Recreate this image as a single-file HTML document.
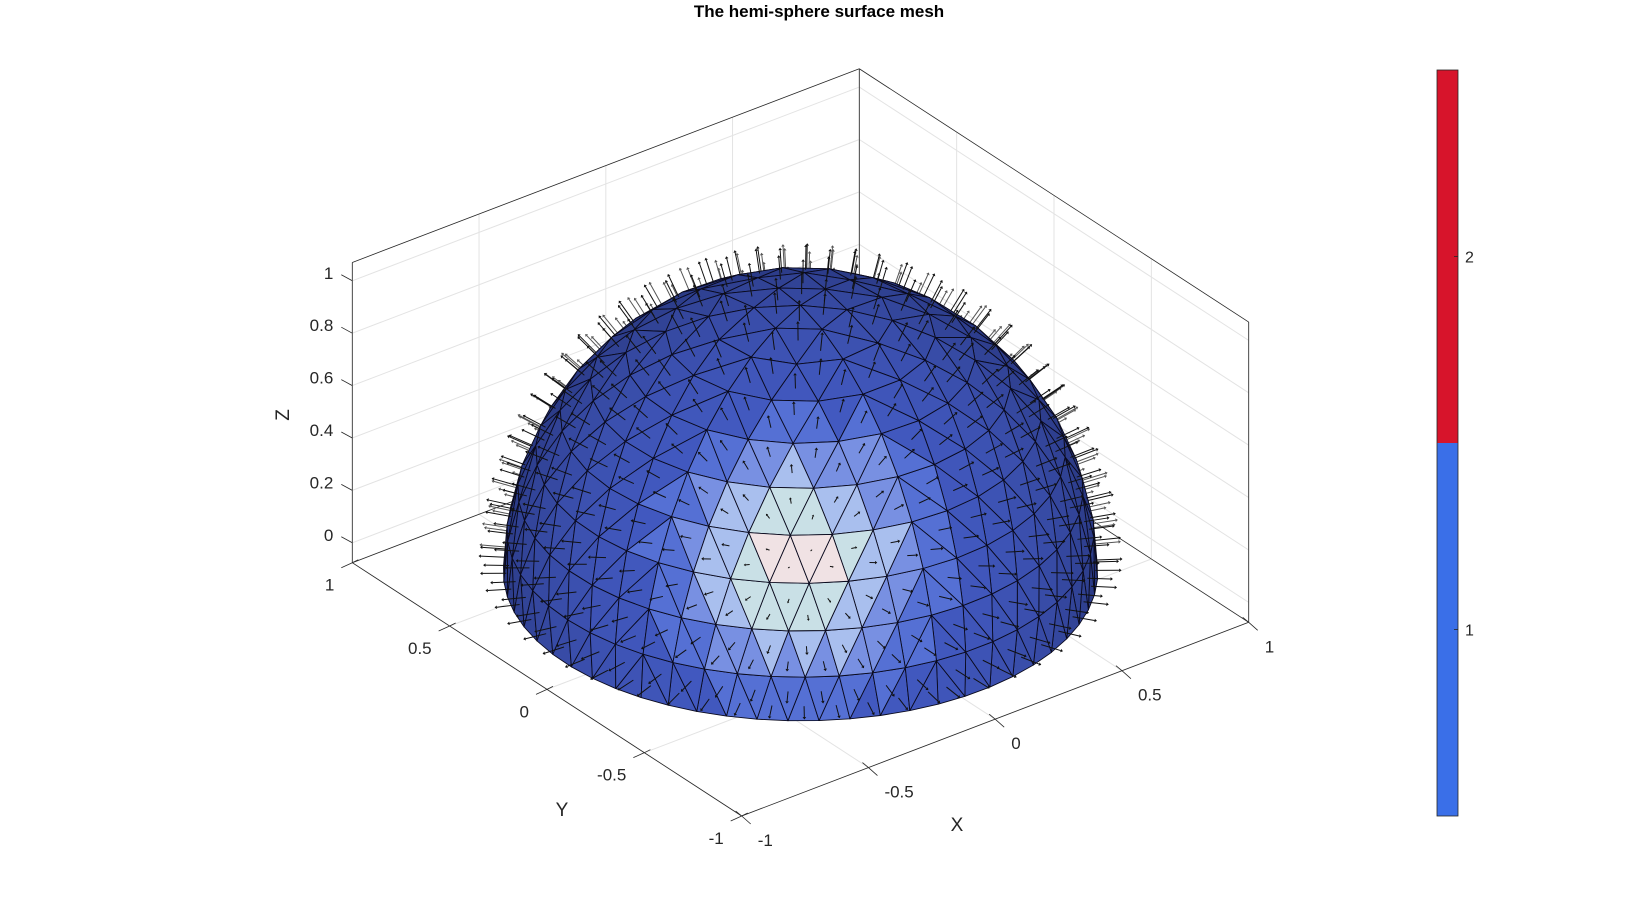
<!DOCTYPE html>
<html><head><meta charset="utf-8">
<style>
html,body{margin:0;padding:0;background:#fff;}
svg{display:block;font-family:"Liberation Sans","DejaVu Sans",sans-serif;}
</style></head>
<body>
<svg id="chart" width="1632" height="918" viewBox="0 0 1632 918">
<text x="819" y="17" text-anchor="middle" font-size="17" font-weight="bold" fill="#000">The hemi-sphere surface mesh</text>
<g id="grid"></g>
<g id="backArrows"></g>
<g id="mesh"></g>
<g id="frontArrows"></g>
<g id="axes"></g>
<g id="cbar"></g>
</svg>
<script>
const xTicks=[-1,-0.5,0,0.5,1];
const yTicks=[-1,-0.5,0,0.5,1];
const zTicks=[0,0.2,0.4,0.6,0.8,1];
const xTickLabels=["-1","-0.5","0","0.5","1"];
const yTickLabels=["-1","-0.5","0","0.5","1"];
const zTickLabels=["0","0.2","0.4","0.6","0.8","1"];
const cbarValues=[1,2];
const cbarColors=["#3a6fe8","#d7142b"];
const cbarRange=[0.5,2.5];
const zRange=[-0.076,1.07];

const NS="http://www.w3.org/2000/svg";
function mk(tag,attrs,parent){const e=document.createElementNS(NS,tag);for(const k in attrs)e.setAttribute(k,attrs[k]);parent.appendChild(e);return e;}
function P(x,y,z){return [800.5+253.5*x-194.7*y, 592.5-96.85*x-126.65*y-262*(z-zRange[0])];}

const grid=document.getElementById('grid');
const axes=document.getElementById('axes');
function line(a,b,col,w,parent,name){const l=mk('line',{x1:a[0],y1:a[1],x2:b[0],y2:b[1],stroke:col,'stroke-width':w},parent);return l;}
const z0=zRange[0],z1=zRange[1];
xTicks.forEach(v=>{ line(P(v,-1,z0),P(v,1,z0),'#e3e3e3',1,grid,'grid-line-x'); line(P(v,1,z0),P(v,1,z1),'#e3e3e3',1,grid,'grid-line-x-wall');});
yTicks.forEach(v=>{ line(P(-1,v,z0),P(1,v,z0),'#e3e3e3',1,grid,'grid-line-y'); line(P(1,v,z0),P(1,v,z1),'#e3e3e3',1,grid,'grid-line-y-wall');});
zTicks.forEach(v=>{ line(P(-1,1,v),P(1,1,v),'#e3e3e3',1,grid,'grid-line-z'); line(P(1,1,v),P(1,-1,v),'#e3e3e3',1,grid,'grid-line-z-wall');});
const bc='#262626';
[[[-1,1,z0],[1,1,z0]],[[1,1,z0],[1,-1,z0]],[[1,1,z0],[1,1,z1]],[[-1,1,z0],[-1,1,z1]],[[1,-1,z0],[1,-1,z1]],
 [[-1,1,z1],[1,1,z1]],[[1,1,z1],[1,-1,z1]]].forEach(e=>line(P(...e[0]),P(...e[1]),bc,0.8,grid,'box-edge'));
line(P(-1,1,z0),P(-1,-1,z0),bc,0.8,axes,'y-axis-line');
line(P(-1,-1,z0),P(1,-1,z0),bc,0.8,axes,'x-axis-line');
function txt(x,y,s,parent,name,anchor,size){const t=mk('text',{x:x,y:y,'font-size':size||17,fill:'#262626','text-anchor':anchor||'middle'},parent);t.textContent=s;return t;}
xTicks.forEach((v,i)=>{const p=P(v,-1,z0);line(p,[p[0]-6,p[1]-5],bc,0.8,axes,'x-tick');line(p,[p[0]+9,p[1]+8],bc,0.8,axes,'x-tick-out');txt(p[0]+16,p[1]+30,xTickLabels[i],axes,'x-tick-label','start');});
yTicks.forEach((v,i)=>{const p=P(-1,v,z0);line(p,[p[0]+6,p[1]-3],bc,0.8,axes,'y-tick');line(p,[p[0]-11,p[1]+5],bc,0.8,axes,'y-tick-out');txt(p[0]-18,p[1]+28,yTickLabels[i],axes,'y-tick-label','end');});
zTicks.forEach((v,i)=>{const p=P(-1,1,v);line(p,[p[0]-11,p[1]-6],bc,0.8,axes,'z-tick');txt(p[0]-19,p[1]-2,zTickLabels[i],axes,'z-tick-label','end');});
txt(957,831,'X',axes,'x-axis-title','middle',19);
txt(562,816,'Y',axes,'y-axis-title','middle',19);
const zt=txt(0,0,'Z',axes,'z-axis-title','middle',19);zt.setAttribute('transform','translate(289,415) rotate(-90)');

const R=0.93,ZS=1.02,N=10;
const vraw=[-51011,-66417,50963];const vl=Math.hypot(...vraw);const V=vraw.map(c=>c/vl);
const rings=[];
for(let i=0;i<=N;i++){const th=i/N*Math.PI/2;const n=i==0?1:6*i;const r=[];
 for(let k=0;k<n;k++){const ph=2*Math.PI*k/n+0.35;r.push([Math.sin(th)*Math.cos(ph),Math.sin(th)*Math.sin(ph),Math.cos(th)]);}rings.push(r);}
const faces=[];
for(let i=0;i<N;i++){const A=rings[i],B=rings[i+1],n1=A.length,n2=B.length;
 if(i==0){for(let b=0;b<n2;b++)faces.push([A[0],B[b],B[(b+1)%n2]]);continue;}
 let a=0,b=0;while(a<n1||b<n2){const fa=(a+1)/n1,fb=(b+1)/n2;
  if(a<n1&&(fa<=fb||b>=n2)){faces.push([A[a%n1],A[(a+1)%n1],B[b%n2]]);a++;}
  else{faces.push([A[a%n1],B[b%n2],B[(b+1)%n2]]);b++;}}}
function pos(n){return [R*n[0],R*n[1],ZS*n[2]];}
function dot(a,b){return a[0]*b[0]+a[1]*b[1]+a[2]*b[2];}
function mix(c1,c2,t){const h=c=>[parseInt(c.slice(1,3),16),parseInt(c.slice(3,5),16),parseInt(c.slice(5,7),16)];const a=h(c1),b=h(c2);return 'rgb('+a.map((v,i)=>Math.round(v+(b[i]-v)*t)).join(',')+')';}
function color(d){if(d>0.993)return '#f0e2e4';if(d>0.975)return '#c9e0e6';if(d>0.95)return '#a9bfee';if(d>0.91)return '#7890e2';if(d>0.86)return '#5570d4';
 const t=Math.max(0,Math.min(1,(0.86-d)/0.86));return mix('#4259c0','#26347a',t);}
const fd=faces.map(f=>{const c=[0,1,2].map(j=>(f[0][j]+f[1][j]+f[2][j])/3);const l=Math.hypot(...c);const n=c.map(v=>v/l);
 const cp=pos(c);return {f,n,cp,depth:dot(cp,V),vis:dot(n,V)>0};});
fd.sort((a,b)=>a.depth-b.depth);
const mesh=document.getElementById('mesh'),fa=document.getElementById('frontArrows'),ba=document.getElementById('backArrows');
function arrow(f,parent,col){const L=0.075;const s=f.cp,e=[s[0]+L*f.n[0],s[1]+L*f.n[1],s[2]+L*f.n[2]];
 const a=P(...s),b=P(...e);const dx=b[0]-a[0],dy=b[1]-a[1];const len=Math.hypot(dx,dy)||1;const ux=dx/len,uy=dy/len;const hs=Math.min(4,len*0.4+1.5);
 const g=mk('g',{},parent);
 mk('line',{x1:a[0],y1:a[1],x2:b[0],y2:b[1],stroke:col,'stroke-width':1},g);
 mk('polygon',{points:`${b[0]+ux*hs*0.6},${b[1]+uy*hs*0.6} ${b[0]-uy*hs*0.45},${b[1]+ux*hs*0.45} ${b[0]+uy*hs*0.45},${b[1]-ux*hs*0.45}`,fill:col},g);}
fd.forEach(f=>{
 if(!f.vis){arrow(f,ba,'#555');return;}
 const pts=f.f.map(v=>P(...pos(v)).join(',')).join(' ');
 const p=mk('polygon',{points:pts,fill:color(dot(f.n,V)),stroke:'#0a0a1e','stroke-width':0.9,'stroke-linejoin':'round'},mesh);
 
 arrow(f,fa,'#111');});

const cb=document.getElementById('cbar');const cx=1437,cw=21,cy0=70,cy1=816;
function cy(v){return cy1-(v-cbarRange[0])/(cbarRange[1]-cbarRange[0])*(cy1-cy0);}
cbarValues.forEach((v,i)=>{const r=mk('rect',{x:cx,y:cy(v+0.5),width:cw,height:cy(v-0.5)-cy(v+0.5),fill:cbarColors[i]},cb);
 });
const cbo=mk('rect',{x:cx,y:cy0,width:cw,height:cy1-cy0,fill:'none',stroke:'#262626','stroke-width':0.8},cb);

cbarValues.forEach(v=>{line([cx+cw-4,cy(v)],[cx+cw,cy(v)],'#262626',0.8,cb,'colorbar-tick');
 txt(cx+cw+7,cy(v)+6,String(v),cb,'colorbar-tick-label','start',16);});
</script>
</body></html>
